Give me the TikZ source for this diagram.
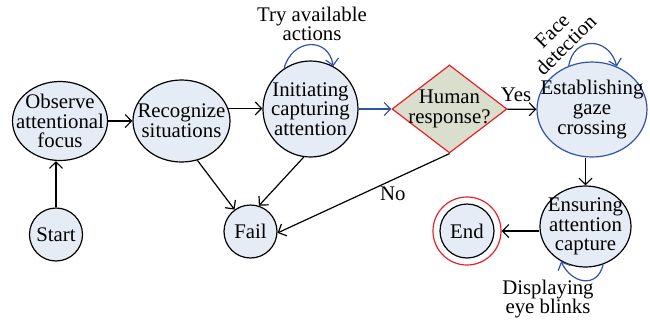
\documentclass[tikz,border=0pt]{standalone}
\usepackage{fontspec}
\setmainfont{Liberation Serif}
\usetikzlibrary{arrows.meta,shapes.geometric}

\definecolor{statefill}{RGB}{230,236,246}
\definecolor{askfill}{RGB}{218,222,204}
\definecolor{loopblue}{RGB}{50,82,170}
\definecolor{ringred}{RGB}{232,32,40}

\tikzset{
  state/.style={ellipse, draw=black, fill=statefill, line width=0.6pt,
    inner sep=-14pt, align=center, font=\fontsize{10.4}{9.8}\selectfont},
  ask/.style={diamond, draw=ringred, fill=askfill, line width=0.6pt,
    inner sep=-14pt, align=center, font=\fontsize{10.4}{9.8}\selectfont},
  arr/.style={-{Straight Barb[length=3.2pt,width=6.5pt]}, line width=0.6pt},
  tag/.style={align=center, font=\fontsize{10.4}{9.8}\selectfont},
}

\begin{document}
\begin{tikzpicture}[x=0.5pt,y=-0.5pt]
\useasboundingbox (0,0) rectangle (650,323);
% states
\node[state, minimum width=47.5pt, minimum height=39.5pt] (observe) at (60,121) {Observe\\attentional\\focus};
\node[state, minimum width=48.5pt, minimum height=41pt] (recognize) at (181.5,121) {Recognize\\situations};
\node[state, minimum width=47.5pt, minimum height=48pt] (initiating) at (310.5,109) {Initiating\\capturing\\attention};
\node[ask, minimum width=57.5pt, minimum height=44pt] (human) at (449.5,109) {Human\\response?};
\node[state, draw=loopblue, minimum width=55pt, minimum height=47.5pt] (establishing) at (592,109.5) {Establishing\\gaze\\crossing};
\node[state, minimum width=45.5pt, minimum height=40.5pt] (ensuring) at (585.5,226.5) {Ensuring\\attention\\capture};
\node[state, minimum width=26.5pt, minimum height=26.5pt] (start) at (56,234.5) {Start};
\node[state, minimum width=26.5pt, minimum height=26.5pt] (fail) at (250.5,231.5) {Fail};
\node[circle, draw=ringred, line width=0.6pt, minimum size=34pt] (endring) at (467,231) {};
\node[state, minimum width=27pt, minimum height=27pt] (endn) at (endring) {End};

% transitions
\draw[arr] (start.north) -- (start.north |- observe.south);
\draw[arr] (observe) -- (recognize);
\draw[arr] (recognize.15) -- (recognize.15 -| initiating.west);
\draw[arr, loopblue] (initiating) -- (human);
\draw[arr] (human) -- node[tag, above, pos=0.3] (yes) {Yes} (establishing);
\draw[arr] (ensuring.north |- establishing.south) -- (ensuring.north);
\draw[arr] (ensuring.west |- endring) -- (endring);
\draw[arr] (recognize.292) -- (fail.126);
\draw[arr] (initiating.262) -- (fail.72);
\draw[arr] (human.south) -- node[tag, below, pos=0.33] (no) {No} (fail.357);

% self loops
\draw[arr, loopblue] (initiating.123) .. controls +(8,-30) and +(-5,-30) .. (initiating.62);
\node[tag] (tryact) at (312,24) {Try available\\actions};
\draw[arr, loopblue] (establishing.118) .. controls +(5,-30) and +(-8,-30) .. (establishing.60);
\node[tag, rotate=45] (facedet) at (559,38) {Face\\detection};
\draw[arr, loopblue] (ensuring.295) .. controls +(-6,25) and +(10,22) .. (ensuring.235);
\node[tag] (blinks) at (548,299) {Displaying\\eye blinks};
\end{tikzpicture}
\end{document}
